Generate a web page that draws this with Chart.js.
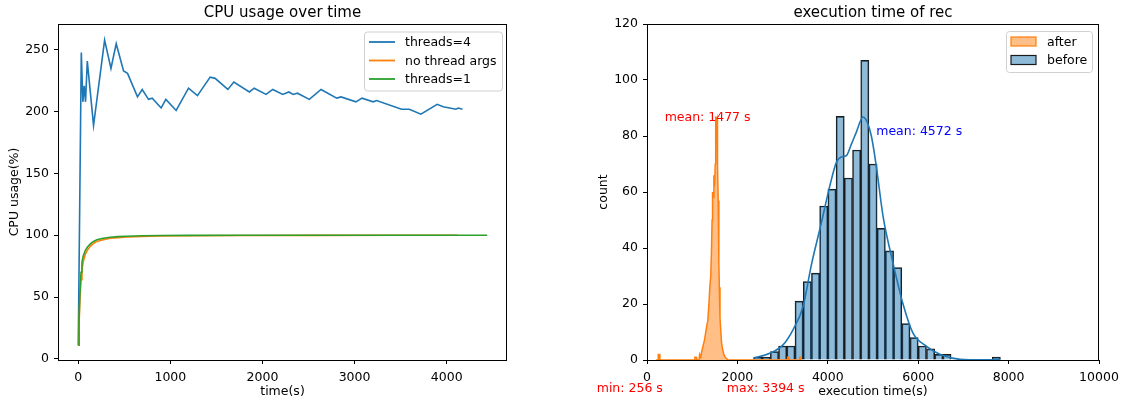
<!DOCTYPE html>
<html>
<head>
<meta charset="utf-8">
<script src="https://cdn.jsdelivr.net/npm/chart.js@4"></script>
<style>
  body { margin: 0; background: #fff; }
  #wrap { position: relative; width: 1126px; height: 402px; }
  #cpuChart { position: absolute; left: 0; top: 0; }
  #histChart { position: absolute; left: 563px; top: 0; }
</style>
</head>
<body>
<div id="wrap">
  <canvas id="cpuChart" width="563" height="402"></canvas>
  <canvas id="histChart" width="563" height="402"></canvas>
</div>
<script>
// ---- left panel: CPU usage over time ----
const threads4X = [0, 33, 50, 65, 79, 98, 166, 286, 355, 412, 492, 535, 643, 694, 763, 803, 900, 951, 1063, 1197, 1294, 1432, 1486, 1624, 1689, 1858, 1910, 2039, 2112, 2220, 2286, 2333, 2380, 2509, 2636, 2806, 2853, 3015, 3080, 3202, 3239, 3510, 3594, 3720, 3897, 3962, 4100, 4126, 4172];
const threads4Y = [11, 248, 208, 221, 208, 241, 189, 258, 235, 255, 233, 231, 212, 218, 210, 211, 203, 210, 201, 219, 213, 228, 227, 218, 224, 216, 219, 214, 218, 214, 216, 214, 215, 210, 218, 211, 212, 208, 211, 208, 209, 202, 202, 198, 206, 204, 202, 203, 202];
const noArgsX = [0, 8, 15, 22, 30, 40, 55, 76, 100, 131, 165, 202, 270, 347, 430, 528, 700, 889, 1200, 1800, 2600, 3400, 4121];
const noArgsY = [11, 26, 42, 54, 64, 72, 79, 84.5, 88, 91, 93.3, 95, 96.4, 97.5, 98.1, 98.6, 99.1, 99.4, 99.6, 99.8, 99.9, 100, 100];
const threads1X = [0, 8, 15, 22, 30, 40, 55, 76, 100, 131, 165, 202, 270, 347, 430, 528, 700, 889, 1200, 1800, 2600, 3500, 4440];
const threads1Y = [11, 30, 47, 59, 70, 78, 83.5, 87.6, 90.5, 93, 95, 96.3, 97.5, 98.4, 98.9, 99.2, 99.6, 99.8, 99.9, 100, 100, 100, 100];
const cpuXTicks = [0, 1000, 2000, 3000, 4000];
const cpuYTicks = [0, 50, 100, 150, 200, 250];

// ---- right panel: execution time histogram ----
const beforeBinCenters = [2456, 2638, 2820, 3001, 3183, 3365, 3547, 3729, 3910, 4092, 4274, 4456, 4638, 4819, 5001, 5183, 5365, 5547, 5728, 5910, 6092, 6274, 6456, 6637, 6819, 7001, 7183, 7365, 7546, 7728];
const beforeCounts = [1, 1, 3, 5, 5, 21, 28, 31, 55, 61, 87, 65, 75, 107, 70, 47, 39, 33, 13, 8, 5, 4, 2, 2, 0, 0, 0, 0, 0, 1];
const beforeKdeX = [2345, 2715, 3009, 3230, 3451, 3637, 3858, 4042, 4190, 4300, 4411, 4520, 4632, 4779, 4870, 4964, 5075, 5221, 5442, 5664, 5885, 6193, 6489, 6859, 7228, 7550, 7820];
const beforeKdeY = [0.6, 2.4, 5.4, 10.8, 19, 34, 49, 62, 70.6, 72.5, 73, 77, 81.4, 86.8, 85, 80, 69, 51.5, 34.7, 20, 9.6, 4.8, 2, 0.4, 0.05, 0.1, 0.25];
const afterX = [200, 245, 250, 280, 285, 1050, 1060, 1090, 1100, 1150, 1165, 1190, 1210, 1240, 1270, 1300, 1320, 1345, 1370, 1390, 1410, 1425, 1440, 1450, 1465, 1480, 1495, 1510, 1520, 1535, 1550, 1560, 1575, 1590, 1600, 1615, 1630, 1650, 1670, 1700, 1730, 1800, 3100, 3110, 3140, 3150, 3370, 3380, 3400, 3410];
const afterY = [0, 0, 2, 2, 0, 0, 1, 1, 0, 0, 2, 1, 3, 5, 7, 10, 12, 14, 20, 26, 30, 38, 50, 60, 58, 66, 62, 70, 87, 85, 86, 70, 57, 35, 26, 15, 11, 6, 4, 2, 1, 0, 0, 1, 1, 0, 0, 1, 1, 0];
const histXTicks = [0, 2000, 4000, 6000, 8000, 10000];
const histYTicks = [0, 20, 40, 60, 80, 100, 120];

const FONT = '"DejaVu Sans", sans-serif';
const BLUE = '#1f77b4', ORANGE = '#ff7f0e', GREEN = '#2ca02c';

function pts(xs, ys) {
    return xs.map((x, i) => ({ x: x, y: ys[i] }));
}

// frame, titles, axis labels, notes and legend, drawn like matplotlib
const decorations = {
    id: 'decorations',
    afterDraw(chart, args, opts) {
        const { ctx, chartArea: a, scales } = chart;
        ctx.save();
        ctx.strokeStyle = '#000';
        ctx.lineWidth = 1;
        ctx.strokeRect(a.left + 0.5, a.top + 0.5, a.right - a.left - 1, a.bottom - a.top);

        ctx.fillStyle = '#000';
        ctx.textAlign = 'center';
        ctx.textBaseline = 'alphabetic';
        ctx.font = '15px ' + FONT;
        ctx.fillText(opts.title, (a.left + a.right) / 2, 17);
        ctx.font = '12.5px ' + FONT;
        ctx.fillText(opts.xlabel, (a.left + a.right) / 2, 394.5);
        ctx.save();
        ctx.translate(a.left - 40, (a.top + a.bottom) / 2);
        ctx.rotate(-Math.PI / 2);
        ctx.fillText(opts.ylabel, 0, 0);
        ctx.restore();

        (opts.notes || []).forEach(n => {
            ctx.fillStyle = n.color;
            ctx.textAlign = n.align;
            ctx.fillText(n.text, scales.x.getPixelForValue(n.x), scales.y.getPixelForValue(n.y));
        });

        // legend box
        const lg = opts.legend;
        const bx = a.right - lg.offsetRight - lg.width;
        const by = a.top + lg.offsetTop;
        ctx.beginPath();
        ctx.roundRect(bx + 0.5, by + 0.5, lg.width, lg.height, 3);
        ctx.fillStyle = 'rgba(255,255,255,0.8)';
        ctx.fill();
        ctx.strokeStyle = '#d0d0d0';
        ctx.stroke();
        ctx.textAlign = 'left';
        ctx.textBaseline = 'middle';
        lg.items.forEach((it, i) => {
            const cy = by + 10.5 + i * 18.5;
            if (it.type === 'line') {
                ctx.strokeStyle = it.color;
                ctx.lineWidth = 1.8;
                ctx.beginPath();
                ctx.moveTo(bx + 5, cy);
                ctx.lineTo(bx + 31, cy);
                ctx.stroke();
            } else {
                ctx.fillStyle = it.fill;
                ctx.fillRect(bx + 5, cy - 4.5, 25, 9);
                ctx.strokeStyle = it.edge;
                ctx.lineWidth = 1.2;
                ctx.strokeRect(bx + 5, cy - 4.5, 25, 9);
            }
            ctx.fillStyle = '#000';
            ctx.fillText(it.label, bx + 41, cy + 1);
        });
        ctx.restore();
    }
};

function axis(min, max, ticks, size, pad) {
    return {
        type: 'linear',
        min: min,
        max: max,
        offset: false,
        afterBuildTicks: s => { s.ticks = ticks.map(v => ({ value: v })); },
        afterFit: s => { if (s.isHorizontal()) s.height = size; else s.width = size; },
        grid: { display: true, offset: false, drawOnChartArea: false, drawTicks: true, tickLength: 4, color: '#000' },
        border: { display: false },
        ticks: { color: '#000', padding: pad, font: { family: FONT, size: 12.5 }, callback: v => String(v), maxRotation: 0, autoSkip: false }
    };
}

new Chart(document.getElementById('cpuChart'), {
    type: 'line',
    data: {
        datasets: [
            { label: 'threads=4', data: pts(threads4X, threads4Y), borderColor: BLUE, borderWidth: 1.6, pointRadius: 0, order: 3 },
            { label: 'no thread args', data: pts(noArgsX, noArgsY), borderColor: ORANGE, borderWidth: 1.6, pointRadius: 0, order: 2 },
            { label: 'threads=1', data: pts(threads1X, threads1Y), borderColor: GREEN, borderWidth: 1.6, pointRadius: 0, order: 1 }
        ]
    },
    options: {
        responsive: false,
        devicePixelRatio: 1,
        animation: false,
        events: [],
        layout: { padding: { left: 0, top: 24, right: 56, bottom: 0 } },
        scales: {
            x: axis(-220, 4655, cpuXTicks, 42, 6),
            y: axis(-1, 271, cpuYTicks, 58, 5)
        },
        plugins: {
            legend: { display: false },
            tooltip: { enabled: false },
            decorations: {
                title: 'CPU usage over time',
                xlabel: 'time(s)',
                ylabel: 'CPU usage(%)',
                legend: {
                    offsetRight: 5, offsetTop: 7.5, width: 138, height: 59,
                    items: [
                        { type: 'line', color: BLUE, label: 'threads=4' },
                        { type: 'line', color: ORANGE, label: 'no thread args' },
                        { type: 'line', color: GREEN, label: 'threads=1' }
                    ]
                }
            }
        }
    },
    plugins: [decorations]
});

new Chart(document.getElementById('histChart'), {
    data: {
        datasets: [
            { type: 'line', label: 'kde', data: pts(beforeKdeX, beforeKdeY), borderColor: BLUE, borderWidth: 1.6, pointRadius: 0, cubicInterpolationMode: 'monotone', order: 0 },
            { type: 'line', label: 'after', data: pts(afterX, afterY), borderColor: ORANGE, backgroundColor: 'rgba(255,127,14,0.5)', fill: 'origin', borderWidth: 1.5, pointRadius: 0, order: 1 },
            { type: 'bar', label: 'before', data: pts(beforeBinCenters, beforeCounts).filter(p => p.y > 0), backgroundColor: 'rgba(31,119,180,0.5)', borderColor: '#1a1a1a', borderWidth: 1, barPercentage: 1, categoryPercentage: 1, order: 2 }
        ]
    },
    options: {
        responsive: false,
        devicePixelRatio: 1,
        animation: false,
        events: [],
        layout: { padding: { left: 0, top: 24, right: 27, bottom: 0 } },
        scales: {
            x: axis(0, 10000, histXTicks, 42, 6),
            y: axis(0, 120, histYTicks, 84, 5)
        },
        plugins: {
            legend: { display: false },
            tooltip: { enabled: false },
            decorations: {
                title: 'execution time of rec',
                xlabel: 'execution time(s)',
                ylabel: 'count',
                notes: [
                    { text: 'mean: 1477 s', x: 390, y: 85.5, color: 'red', align: 'left' },
                    { text: 'mean: 4572 s', x: 5072, y: 80.5, color: 'blue', align: 'left' },
                    { text: 'min: 256 s', x: 350, y: -11.5, color: 'red', align: 'right' },
                    { text: 'max: 3394 s', x: 3485, y: -11.5, color: 'red', align: 'right' }
                ],
                legend: {
                    offsetRight: 7, offsetTop: 7, width: 86, height: 41,
                    items: [
                        { type: 'patch', fill: 'rgba(255,127,14,0.5)', edge: ORANGE, label: 'after' },
                        { type: 'patch', fill: 'rgba(31,119,180,0.5)', edge: '#1a1a1a', label: 'before' }
                    ]
                }
            }
        }
    },
    plugins: [decorations]
});
</script>
</body>
</html>
